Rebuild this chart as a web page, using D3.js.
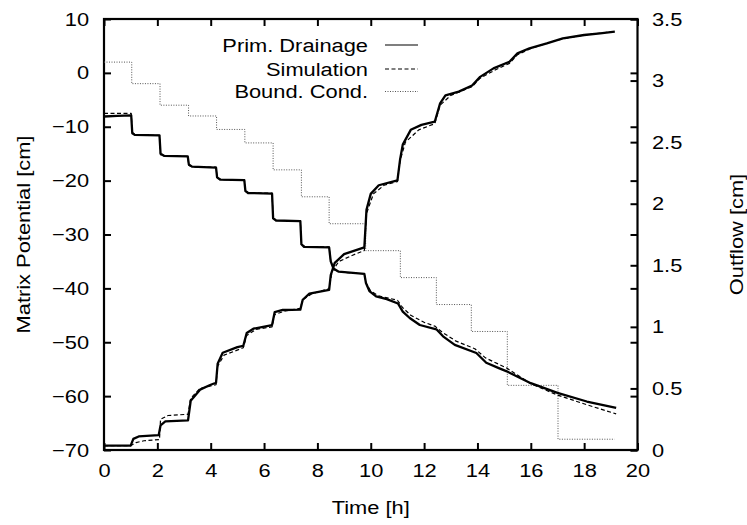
<!DOCTYPE html>
<html><head><meta charset="utf-8">
<script src="https://cdn.jsdelivr.net/npm/d3@7"></script>
<style>
body{margin:0;background:#fff;}
text{font-family:"Liberation Sans",Arial,sans-serif;font-size:19px;fill:#000;}
</style></head>
<body><svg id="c" width="747" height="525"></svg>
<script>
// ---- data ----
const xTicks = [0,2,4,6,8,10,12,14,16,18,20];
const yLeftTicks = [-70,-60,-50,-40,-30,-20,-10,0,10];
const yRightTicks = [0,0.5,1,1.5,2,2.5,3,3.5];
const yRightLabels = ["0","0.5","1","1.5","2","2.5","3","3.5"];
const legendLabels = ["Prim. Drainage","Simulation","Bound. Cond."];

// matrix potential (left axis), measured
const potT = [0,0.5,1.02,1.06,1.15,2.08,2.12,2.25,3.14,3.18,3.3,4.2,4.24,4.35,5.26,5.3,5.4,6.3,6.34,6.45,7.36,7.4,7.5,8.44,8.5,8.6,8.8,9.76,9.82,9.95,10.2,10.6,11.02,11.2,11.46,11.84,12.46,12.71,13.15,13.96,14.33,14.8,15.1,16.0,17.0,18.1,19.2];
const potMeas = [-8.1,-8.0,-7.9,-11.2,-11.5,-11.6,-15.0,-15.4,-15.5,-17.0,-17.4,-17.6,-19.4,-19.8,-19.9,-21.9,-22.3,-22.4,-27.0,-27.4,-27.5,-31.8,-32.3,-32.4,-35.0,-36.3,-36.9,-37.3,-39.0,-40.5,-41.5,-42.0,-42.8,-44.3,-45.5,-46.8,-47.6,-48.9,-50.5,-52.0,-53.8,-54.8,-55.4,-57.6,-59.4,-61.0,-62.2];
// matrix potential, simulation
const potSimT = [0,1.02,1.06,1.2,2.08,2.12,2.3,3.14,3.18,3.35,4.2,4.24,4.4,5.26,5.3,5.45,6.3,6.34,6.5,7.36,7.4,7.55,8.44,8.5,8.65,8.9,9.76,9.82,10.0,10.3,11.0,11.2,11.5,12.0,12.4,12.7,13.2,13.9,14.3,15.1,16.0,17.0,18.1,19.2];
const potSim = [-7.5,-7.5,-11.0,-11.6,-11.6,-15.2,-15.5,-15.5,-17.2,-17.5,-17.5,-19.5,-19.8,-19.8,-22.0,-22.3,-22.3,-27.0,-27.4,-27.4,-31.8,-32.3,-32.3,-35.0,-36.6,-37.0,-37.3,-39.0,-40.5,-41.4,-42.2,-43.6,-45.0,-46.3,-47.0,-48.2,-49.8,-51.2,-52.9,-54.8,-57.7,-59.8,-61.6,-63.3];

// outflow (right axis), measured
const outT = [0,1.0,1.1,1.3,2.05,2.12,2.3,3.15,3.25,3.6,4.0,4.2,4.26,4.45,5.0,5.22,5.35,5.6,6.3,6.4,6.7,7.36,7.45,7.7,8.44,8.5,8.65,9.0,9.76,9.84,10.0,10.3,11.0,11.1,11.2,11.5,11.9,12.4,12.6,12.8,13.3,13.8,14.1,14.6,15.2,15.5,15.95,16.6,17.2,18.0,18.6,19.15];
const outMeas = [0.035,0.035,0.09,0.11,0.12,0.2,0.232,0.24,0.40,0.49,0.53,0.546,0.70,0.79,0.835,0.845,0.95,0.985,1.015,1.12,1.137,1.14,1.22,1.27,1.30,1.42,1.52,1.59,1.645,1.95,2.08,2.15,2.19,2.36,2.48,2.6,2.64,2.666,2.815,2.88,2.91,2.96,3.03,3.099,3.153,3.221,3.262,3.302,3.343,3.37,3.383,3.397];
// outflow, simulation
const outSimT = [0,1.0,1.2,1.5,2.08,2.12,2.4,3.15,3.25,3.6,4.2,4.26,4.5,5.22,5.35,5.7,6.3,6.4,6.8,7.36,7.45,7.8,8.44,8.55,8.8,9.3,9.76,9.84,10.1,10.5,11.0,11.1,11.3,11.8,12.4,12.6,13.0,13.8,14.1,14.7,15.2,15.5,16.0,17.0,18.0,19.15];
const outSim = [0.035,0.035,0.06,0.075,0.085,0.25,0.28,0.29,0.42,0.50,0.53,0.68,0.77,0.83,0.93,0.98,1.0,1.10,1.13,1.15,1.22,1.27,1.31,1.45,1.53,1.58,1.62,1.92,2.08,2.15,2.18,2.35,2.5,2.6,2.65,2.80,2.88,2.95,3.02,3.09,3.14,3.21,3.26,3.33,3.37,3.40];

// boundary condition (left axis), step function: level holds until next step time
const bcT = [0,1.04,2.1,3.17,4.22,5.28,6.34,7.4,8.44,9.81,11.11,12.46,13.77,15.12,17.02,19.14];
const bcV = [2,-2,-6,-8,-10.5,-13,-18,-23,-28,-33,-38,-43,-48,-58,-68];

// ---- drawing ----
const svg = d3.select("#c");
const L=104, R=637.5, T=19, B=450;
const SX = 1.15;
const x = d3.scaleLinear().domain([0,20]).range([L,R]);
const yL = d3.scaleLinear().domain([-70,10]).range([B,T]);
const yR = d3.scaleLinear().domain([0,3.5]).range([B,T]);

function styleAxis(g){
  g.select(".domain").remove();
  g.selectAll(".tick line").attr("stroke","#000").attr("stroke-width",2);
}
// bottom
svg.append("g").attr("transform",`translate(0,${B})`)
  .call(d3.axisBottom(x).tickValues(xTicks).tickSize(-7).tickPadding(13.5).tickFormat(d3.format("d")))
  .call(styleAxis)
  .call(g=>g.selectAll(".tick text").attr("font-size",null).attr("transform",`scale(${SX},1)`));
// top mirror ticks
svg.append("g").attr("transform",`translate(0,${T})`)
  .call(d3.axisTop(x).tickValues(xTicks).tickSize(-7).tickFormat(""))
  .call(styleAxis);
// left
svg.append("g").attr("transform",`translate(${L},0)`)
  .call(d3.axisLeft(yL).tickValues(yLeftTicks).tickSize(-7).tickPadding(13).tickFormat(d3.format("d")))
  .call(styleAxis)
  .call(g=>g.selectAll(".tick text").attr("font-size",null).attr("transform",`scale(${SX},1)`));
// right mirror of left ticks
svg.append("g").attr("transform",`translate(${R},0)`)
  .call(d3.axisRight(yL).tickValues(yLeftTicks).tickSize(-7).tickFormat(""))
  .call(styleAxis);
// right axis
svg.append("g").attr("transform",`translate(${R},0)`)
  .call(d3.axisRight(yR).tickValues(yRightTicks).tickSize(-7).tickPadding(12.6).tickFormat((d,i)=>yRightLabels[i]))
  .call(styleAxis)
  .call(g=>g.selectAll(".tick text").attr("font-size",null).attr("transform",`scale(${SX},1)`));
svg.selectAll(".tick text").attr("font-family",null);

// frame
svg.append("rect").attr("x",L).attr("y",T).attr("width",R-L).attr("height",B-T)
  .attr("fill","none").attr("stroke","#000").attr("stroke-width",2.2);

// lines
const lineL = d3.line().x(d=>x(d[0])).y(d=>yL(d[1]));
const lineR = d3.line().x(d=>x(d[0])).y(d=>yR(d[1]));
const zip = (a,b)=>a.map((v,i)=>[v,b[i]]);

const bcPts = [];
bcV.forEach((v,i)=>{ bcPts.push([bcT[i],v]); bcPts.push([bcT[i+1],v]); });

const styles = {
  solid:{w:2.3,dash:null,c:"#000"},
  dash:{w:1.2,dash:"4,2.5",c:"#000"},
  dot:{w:1,dash:"1,1.5",c:"#555"}
};
function draw(path, st){
  svg.append("path").attr("d",path).attr("fill","none")
    .attr("stroke",st.c).attr("stroke-width",st.w)
    .attr("stroke-dasharray",st.dash).attr("stroke-linejoin","round");
}
draw(lineL(bcPts), styles.dot);
draw(lineL(zip(potSimT,potSim)), styles.dash);
draw(lineR(zip(outSimT,outSim)), styles.dash);
draw(lineL(zip(potT,potMeas)), styles.solid);
draw(lineR(zip(outT,outMeas)), styles.solid);

// legend
const legY = [45,69,91.5];
const legSt = [styles.solid, styles.dash, styles.dot];
legendLabels.forEach((lab,i)=>{
  svg.append("text").attr("transform",`translate(368,${legY[i]+6.7}) scale(${SX},1)`)
    .attr("text-anchor","end").text(lab);
  svg.append("line").attr("x1",385).attr("x2",418).attr("y1",legY[i]).attr("y2",legY[i])
    .attr("stroke",legSt[i].c).attr("stroke-width",i===0?1.2:legSt[i].w).attr("stroke-dasharray",legSt[i].dash);
});

// axis titles
svg.append("text").attr("transform",`translate(${(L+R)/2},514) scale(${SX},1)`)
  .attr("text-anchor","middle").text("Time [h]");
svg.append("text").attr("transform",`translate(30,${(T+B)/2}) rotate(-90) scale(${SX},1)`)
  .attr("text-anchor","middle").text("Matrix Potential [cm]");
svg.append("text").attr("transform",`translate(743,${(T+B)/2}) rotate(-90) scale(${SX},1)`)
  .attr("text-anchor","middle").text("Outflow [cm]");
</script></body></html>
